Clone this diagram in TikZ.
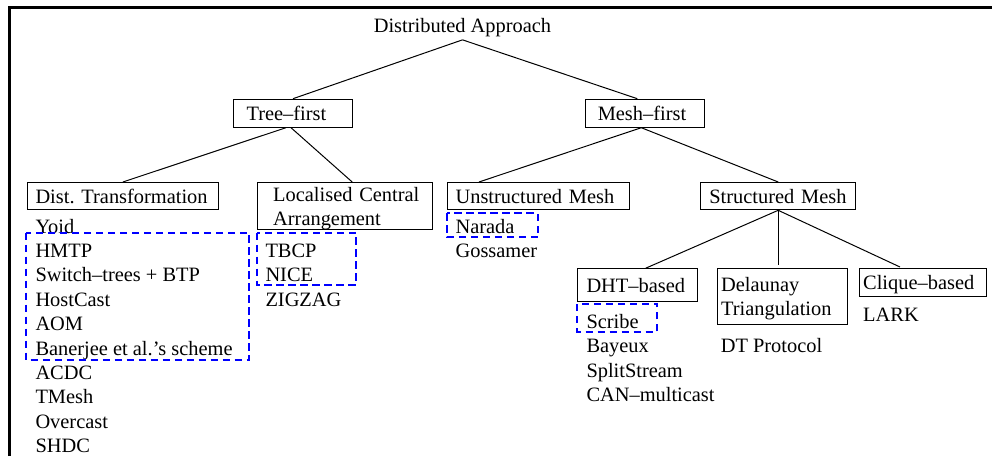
\documentclass[tikz,border=0pt]{standalone}
\usepackage{fontspec}
\setmainfont{Liberation Serif}
\usepackage{tikz}

\begin{document}
\begin{tikzpicture}[x=0.5pt,y=-0.5pt,line width=0.5pt,font=\fontsize{10.2}{12.2}\selectfont]
	\tikzstyle{class}=[draw,anchor=north west,align=left,inner ysep=1pt,text depth=0pt]
	\tikzstyle{item}=[anchor=base west,inner sep=0pt]
	\tikzstyle{group}=[draw=blue,line width=1.1pt,dash pattern=on 3.6pt off 2.4pt]
	\tikzstyle{frame}=[line width=1.5pt]

	\useasboundingbox (0,0) rectangle (992,456);
	\draw[frame] (9.5,456) -- (9.5,7.5) -- (992,7.5);

	% Draw the root
	\node[anchor=base,inner sep=1.5pt] (root) at (462.5,32) {Distributed Approach};

	% Draw the first level
	\node[class,text width=46.5pt,inner xsep=6.65pt,minimum height=14pt] (tree) at (232.7,98.7) {Tree--first};
	\node[class,text width=47.5pt,inner xsep=6pt,minimum height=14pt] (mesh) at (585.3,98.7) {Mesh--first};

	% Draw the second level
	\node[class,text width=87.35pt,inner xsep=4pt,minimum height=13.65pt] (dist) at (27,182) {\mbox{Dist.\ Transformation}};
	\node[class,text width=71.5pt,inner xsep=8pt,minimum height=23.65pt,text depth=12.2pt] (local) at (256.7,182) {\mbox{Localised Central}\\Arrangement};
	\node[class,text width=82.95pt,inner xsep=4.15pt,minimum height=13.65pt] (unstr) at (446.8,182) {\mbox{Unstructured Mesh}};
	\node[class,text width=68.8pt,inner xsep=4.3pt,minimum height=13.65pt] (struc) at (700.3,182) {\mbox{Structured Mesh}};

	% Draw the structured mesh classes
	\node[class,text width=51pt,inner xsep=4.35pt,minimum height=16.2pt] (dht) at (577.3,268.3) {DHT--based};
	\node[class,text width=61pt,inner xsep=2pt,minimum height=27.85pt,text depth=12.2pt] (delau) at (716.7,268.3) {Delaunay\\Triangulation};
	\node[class,text width=59.6pt,inner xsep=1.85pt,minimum height=13.85pt] (clique) at (859,268.3) {Clique--based};

	% Connect the classes
	\draw (root.south) -- (tree.north);
	\draw (root.south) -- ([xshift=-4pt]mesh.north);
	\draw ([xshift=-3.5pt]tree.south) -- (dist.north);
	\draw ([xshift=-1pt]tree.south) -- ([xshift=3.75pt]local.north);
	\draw ([xshift=-2pt]mesh.south) -- ([xshift=-29.8pt]unstr.north);
	\draw ([xshift=-2pt]mesh.south) -- (struc.north);
	\draw (struc.south) -- ([xshift=4pt]dht.north);
	\draw[shorten >=1.6pt] (struc.south) -- (struc.south |- delau.north);
	\draw[shorten >=1.6pt] (struc.south) -- ([xshift=-10pt]clique.north);

	% Draw the protocols of each class
	\foreach \name [count=\i] in {Yoid,HMTP,Switch--trees + BTP,HostCast,AOM,Banerjee et al.'s scheme,ACDC,TMesh,Overcast,SHDC}
		\node[item] (dist-\i) at (35,{233+24.4*(\i-1)}) {\name};
	\foreach \name [count=\i] in {TBCP,NICE,ZIGZAG}
		\node[item] (local-\i) at (265,{257.4+24.4*(\i-1)}) {\name};
	\foreach \name [count=\i] in {Narada,Gossamer}
		\node[item] (unstr-\i) at (455.1,{233+24.4*(\i-1)}) {\name};
	\foreach \name [count=\i] in {Scribe,Bayeux,SplitStream,CAN--multicast}
		\node[item] (dht-\i) at (586,{328.5+24.4*(\i-1)}) {\name};
	\node[item] (delau-1) at (720.3,352.7) {DT Protocol};
	\node[item] (clique-1) at (862.7,321) {LARK};

	% Mark the groups
	\draw[group] (26,232.7) rectangle (249.3,360);
	\draw[group] (256.7,232.7) rectangle (356,285);
	\draw[group] (446.8,213.3) rectangle (538.2,237.3);
	\draw[group] (577.3,304) rectangle (657.3,331.7);
\end{tikzpicture}
\end{document}
